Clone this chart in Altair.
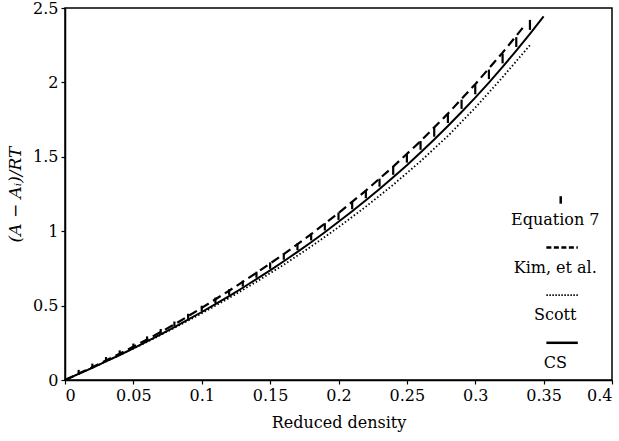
import altair as alt
import pandas as pd

FONT = "DejaVu Serif"

# CS (solid)
cs_x = [0, 0.01, 0.02, 0.03, 0.04, 0.05, 0.06, 0.07, 0.08, 0.09, 0.10, 0.11, 0.12, 0.13, 0.14,
        0.15, 0.16, 0.17, 0.18, 0.19, 0.20, 0.21, 0.22, 0.23, 0.24, 0.25, 0.26, 0.27, 0.28,
        0.29, 0.30, 0.31, 0.32, 0.33, 0.34, 0.35]
cs_y = [0, 0.041, 0.082, 0.125, 0.168, 0.213, 0.259, 0.307, 0.355, 0.405, 0.457, 0.510, 0.564,
        0.620, 0.678, 0.737, 0.798, 0.861, 0.926, 0.993, 1.063, 1.134, 1.208, 1.284, 1.363,
        1.444, 1.529, 1.616, 1.707, 1.801, 1.898, 1.999, 2.104, 2.213, 2.326, 2.444]

# Kim, et al. (dashed)
kim_x = [0, 0.02, 0.04, 0.06, 0.08, 0.10, 0.12, 0.14, 0.16, 0.18, 0.20, 0.22, 0.24, 0.26,
         0.28, 0.30, 0.32, 0.335]
kim_y = [0, 0.086, 0.176, 0.272, 0.373, 0.485, 0.600, 0.720, 0.846, 0.980, 1.122, 1.273,
         1.434, 1.605, 1.790, 1.988, 2.200, 2.370]

# Scott (dotted)
scott_x = [0, 0.02, 0.04, 0.06, 0.08, 0.10, 0.12, 0.14, 0.16, 0.18, 0.20, 0.22, 0.24, 0.26,
           0.28, 0.30, 0.32, 0.34]
scott_y = [0, 0.082, 0.167, 0.256, 0.350, 0.448, 0.551, 0.660, 0.775, 0.897, 1.027, 1.165,
           1.312, 1.470, 1.640, 1.830, 2.035, 2.250]

# Equation 7 (short vertical bars)
eq7_x = [0.01, 0.02, 0.03, 0.04, 0.05, 0.06, 0.07, 0.08, 0.09, 0.10, 0.11, 0.12, 0.13, 0.14,
         0.15, 0.16, 0.17, 0.18, 0.19, 0.20, 0.21, 0.22, 0.23, 0.24, 0.25, 0.26, 0.27, 0.28,
         0.29, 0.30, 0.31, 0.32, 0.33, 0.34]
eq7_lo = [0.043, 0.085, 0.128, 0.172, 0.217, 0.264, 0.312, 0.361, 0.411, 0.464, 0.517, 0.572,
          0.628, 0.687, 0.747, 0.808, 0.872, 0.938, 1.005, 1.076, 1.148, 1.222, 1.299, 1.379,
          1.461, 1.547, 1.635, 1.727, 1.822, 1.920, 2.022, 2.128, 2.238, 2.353]
eq7_hi = [0.068, 0.110, 0.154, 0.199, 0.245, 0.293, 0.343, 0.393, 0.445, 0.499, 0.554, 0.610,
          0.668, 0.728, 0.790, 0.853, 0.918, 0.985, 1.054, 1.126, 1.200, 1.275, 1.353, 1.435,
          1.519, 1.606, 1.695, 1.788, 1.884, 1.983, 2.086, 2.193, 2.304, 2.420]

# Legend
leg_names = ["Equation 7", "Kim, et al.", "Scott", "CS"]
leg_sym_y = [1.21, 0.89, 0.57, 0.25]
leg_lab_y = [1.075, 0.755, 0.435, 0.115]
leg_x0, leg_x1, leg_xc = 0.352, 0.375, 0.3625

xs = alt.Scale(domain=[0, 0.4], nice=False)
ys = alt.Scale(domain=[0, 2.5], nice=False)

x_axis = alt.Axis(title="Reduced density", values=[0, 0.05, 0.1, 0.15, 0.2, 0.25, 0.3, 0.35, 0.4],
                  labelExpr="format(datum.value, '~g')",
                  grid=False, tickSize=4, labelPadding=3, titlePadding=11,
                  labelFont=FONT, labelFontSize=16, titleFont=FONT, titleFontSize=16,
                  titleFontWeight="normal", labelColor="black", titleColor="black",
                  domainColor="black", domainWidth=1.5, tickColor="black", tickWidth=1.2)
y_axis = alt.Axis(title="(A − Aᵢ)/RT", values=[0, 0.5, 1, 1.5, 2, 2.5],
                  labelExpr="format(datum.value, '~g')",
                  grid=False, tickSize=4, labelPadding=3, titlePadding=8,
                  labelFont=FONT, labelFontSize=16, titleFont=FONT, titleFontSize=17,
                  titleFontWeight="normal", titleFontStyle="italic",
                  labelColor="black", titleColor="black",
                  domainColor="black", domainWidth=1.5, tickColor="black", tickWidth=1.2)

def line_layer(xv, yv, dash, width):
    df = pd.DataFrame({"x": xv, "y": yv})
    m = alt.Chart(df).mark_line(color="black", strokeWidth=width, **({"strokeDash": dash} if dash else {}))
    return m.encode(x=alt.X("x:Q", scale=xs, axis=x_axis), y=alt.Y("y:Q", scale=ys, axis=y_axis))

cs = line_layer(cs_x, cs_y, None, 2)
kim = line_layer(kim_x, kim_y, [9, 5], 2.2)
scott = line_layer(scott_x, scott_y, [1.5, 2.2], 1.8)

eq7_df = pd.DataFrame({"x": eq7_x, "lo": eq7_lo, "hi": eq7_hi})
eq7 = alt.Chart(eq7_df).mark_rule(color="black", strokeWidth=2.2).encode(
    x=alt.X("x:Q", scale=xs), y=alt.Y("lo:Q", scale=ys), y2="hi:Q")

leg_df = pd.DataFrame({"name": leg_names, "sy": leg_sym_y, "ly": leg_lab_y,
                       "x0": [leg_xc] + [leg_x0] * 3, "x1": [leg_xc] + [leg_x1] * 3})

leg_text = alt.Chart(leg_df.assign(xc=leg_xc - 0.004)).mark_text(
    font=FONT, fontSize=16, align="center", baseline="middle", color="black").encode(
    x=alt.X("xc:Q", scale=xs), y=alt.Y("ly:Q", scale=ys), text="name:N")

sym_eq = alt.Chart(leg_df.iloc[[0]].assign(lo=leg_sym_y[0] - 0.025, hi=leg_sym_y[0] + 0.025)).mark_rule(
    color="black", strokeWidth=2.5).encode(x=alt.X("x0:Q", scale=xs), y=alt.Y("lo:Q", scale=ys), y2="hi:Q")
sym_kim = alt.Chart(leg_df.iloc[[1]]).mark_rule(color="black", strokeWidth=2.5, strokeDash=[5, 2.5]).encode(
    x=alt.X("x0:Q", scale=xs), x2="x1:Q", y=alt.Y("sy:Q", scale=ys))
sym_scott = alt.Chart(leg_df.iloc[[2]]).mark_rule(color="black", strokeWidth=1.8, strokeDash=[1.5, 1.5]).encode(
    x=alt.X("x0:Q", scale=xs), x2="x1:Q", y=alt.Y("sy:Q", scale=ys))
sym_cs = alt.Chart(leg_df.iloc[[3]]).mark_rule(color="black", strokeWidth=2.5).encode(
    x=alt.X("x0:Q", scale=xs), x2="x1:Q", y=alt.Y("sy:Q", scale=ys))

chart = alt.layer(cs, kim, scott, eq7, leg_text, sym_eq, sym_kim, sym_scott, sym_cs).properties(
    width=547, height=372,
    autosize=alt.AutoSizeParams(type="none"),
    padding={"left": 65, "top": 8, "right": 6, "bottom": 61},
    background="white",
).configure_view(stroke="black", strokeWidth=1.5).configure_text(font=FONT)

chart.save("out.html", embed_options={"renderer": "svg", "actions": False})
